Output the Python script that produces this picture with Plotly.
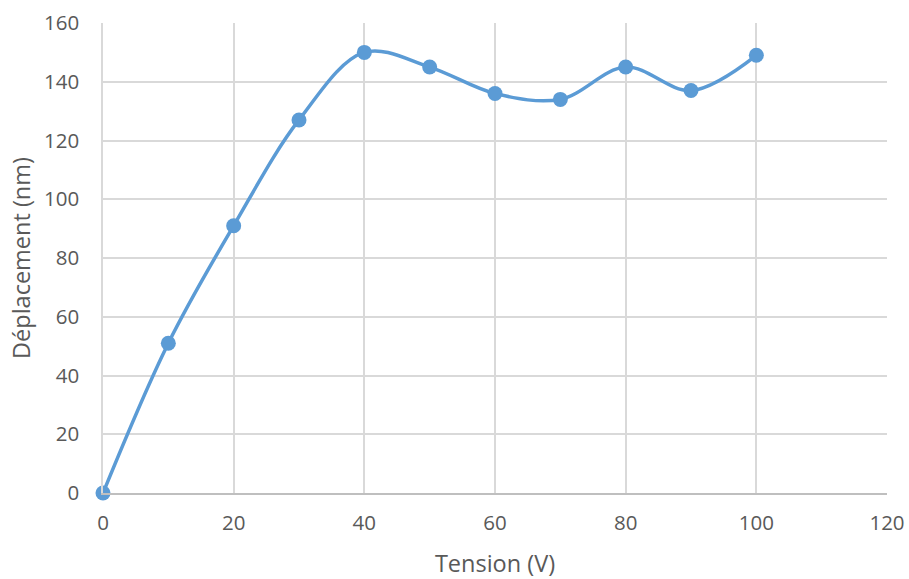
import plotly.graph_objects as go

tension = [0, 10, 20, 30, 40, 50, 60, 70, 80, 90, 100]
deplacement = [0, 51, 91, 127, 150, 145, 136, 134, 145, 137, 149]
x_ticks = [0, 20, 40, 60, 80, 100, 120]
y_ticks = [0, 20, 40, 60, 80, 100, 120, 140, 160]

blue = "#5B9BD5"
grey_text = "#595959"
grid = "#D9D9D9"
font_family = "Open Sans, Lato, sans-serif"

fig = go.Figure()
fig.add_trace(go.Scatter(
    x=tension, y=deplacement, mode="lines+markers",
    line=dict(color=blue, width=3.5, shape="spline", smoothing=1),
    marker=dict(color=blue, size=15),
    cliponaxis=False, showlegend=False,
))

fig.update_layout(
    width=909, height=579,
    margin=dict(l=103, r=22, t=23, b=86),
    paper_bgcolor="white", plot_bgcolor="white",
    font=dict(family=font_family, color=grey_text, size=21),
)
fig.update_xaxes(
    range=[0, 120], tickvals=x_ticks, showgrid=True, gridcolor=grid, gridwidth=1.5,
    zeroline=False, showline=True, linecolor="#BFBFBF", linewidth=1.5,
    mirror=False, ticks="", ticklabelstandoff=11, automargin=False,
    title=dict(text="Tension (V)", font=dict(size=23.5, color=grey_text), standoff=22),
    tickfont=dict(size=20.5, color=grey_text),
)
fig.update_yaxes(
    range=[0, 160], tickvals=y_ticks, showgrid=True, gridcolor=grid, gridwidth=1.5,
    zeroline=False, showline=True, linecolor=grid, linewidth=1.5,
    ticks="", ticklabelstandoff=18, automargin=False,
    title=dict(text="Déplacement (nm)", font=dict(size=23.5, color=grey_text), standoff=7),
    tickfont=dict(size=20.5, color=grey_text),
)

fig.write_html(
    "out.html",
    config={"displayModeBar": False},
    post_script="document.body.style.margin='0';document.body.style.overflow='hidden';",
)
